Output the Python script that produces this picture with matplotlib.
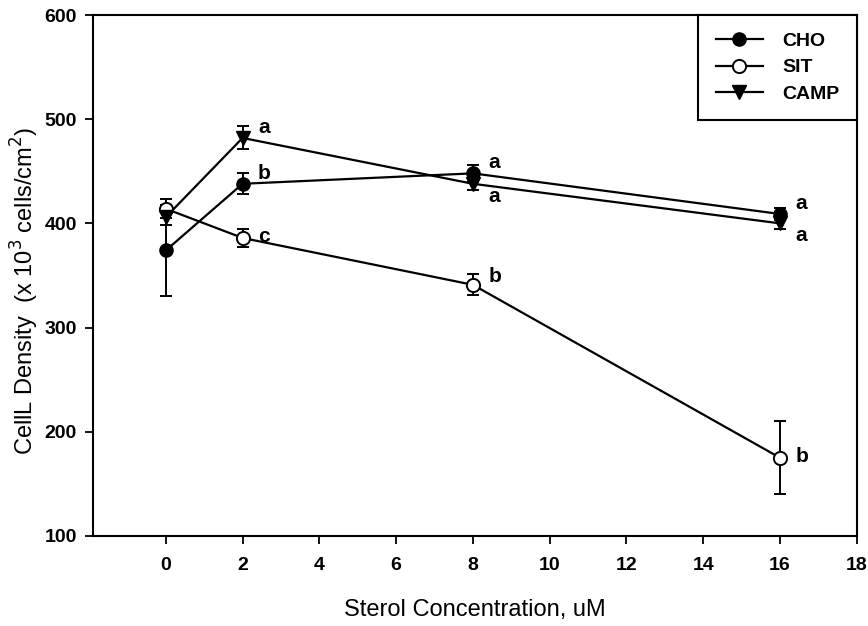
import matplotlib
matplotlib.use("Agg")
import matplotlib.pyplot as plt
from matplotlib.lines import Line2D

plt.rcParams["font.family"] = ["Liberation Sans", "DejaVu Sans"]

conc = [0, 2, 8, 16]

cho = [374, 438, 448, 409]
cho_err = [44, 10, 8, 6]
cho_letters = ["", "b", "a", "a"]

sit = [414, 386, 341, 175]
sit_err = [9, 9, 10, 35]
sit_letters = ["", "c", "b", "b"]

camp = [406, 482, 438, 400]
camp_err = [8, 11, 6, 5]
camp_letters = ["", "a", "a", "a"]

fig = plt.figure(figsize=(8.68, 6.26), dpi=100)
ax = fig.add_axes([0.107, 0.144, 0.880, 0.832])

common = dict(color="black", lw=1.6, ms=9.5, capsize=4, capthick=1.4, elinewidth=1.4)
ax.errorbar(conc, cho, yerr=cho_err, fmt="-o", mfc="black", mec="black", **common)
ax.errorbar(conc, sit, yerr=sit_err, fmt="-o", mfc="white", mec="black", mew=1.4, **common)
ax.errorbar(conc, camp, yerr=camp_err, fmt="-v", mfc="black", mec="black", **common)

# significance letters
txt = dict(fontsize=15, fontweight="bold", va="center", ha="left")
for x, y, s in zip(conc, cho, cho_letters):
    if s:
        ax.text(x + 0.4, y + 10, s, **txt)
for x, y, s in zip(conc, sit, sit_letters):
    if s:
        dy = 8 if x == 8 else 1
        ax.text(x + 0.4, y + dy, s, **txt)
for x, y, s in zip(conc, camp, camp_letters):
    if s:
        dy = 10 if x == 2 else -12
        ax.text(x + 0.4, y + dy, s, **txt)

ax.set_xlim(-1.9, 18)
ax.set_ylim(100, 600)
ax.set_xticks(range(0, 19, 2))
ax.set_yticks(range(100, 601, 100))
ax.tick_params(direction="out", length=5.5, width=1.3, labelsize=14)
ax.tick_params(axis="x", pad=10)
ax.tick_params(axis="y", pad=6)
for lab in ax.get_xticklabels() + ax.get_yticklabels():
    lab.set_fontweight("bold")
for sp in ax.spines.values():
    sp.set_linewidth(1.5)

ax.set_xlabel("Sterol Concentration, uM", fontsize=17)
ax.set_ylabel("CellL Density  (x 10$^3$ cells/cm$^2$)", fontsize=17)
ax.xaxis.set_label_coords(0.5, -0.122)
ax.yaxis.set_label_coords(-0.068, 0.47)

handles = [
    Line2D([], [], color="black", lw=1.6, marker="o", ms=9.5, mfc="black", mec="black"),
    Line2D([], [], color="black", lw=1.6, marker="o", ms=9.5, mfc="white", mec="black", mew=1.4),
    Line2D([], [], color="black", lw=1.6, marker="v", ms=9.5, mfc="black", mec="black"),
]
leg = ax.legend(handles, ["CHO", "SIT", "CAMP"], loc="upper right", fontsize=14,
                frameon=True, fancybox=False, edgecolor="black", framealpha=1,
                handlelength=2.4, handletextpad=1.0, borderpad=0.9,
                labelspacing=0.45, borderaxespad=0.0)
leg.get_frame().set_linewidth(1.5)
for t in leg.get_texts():
    t.set_fontweight("bold")

fig.savefig("out.png", dpi=100)
